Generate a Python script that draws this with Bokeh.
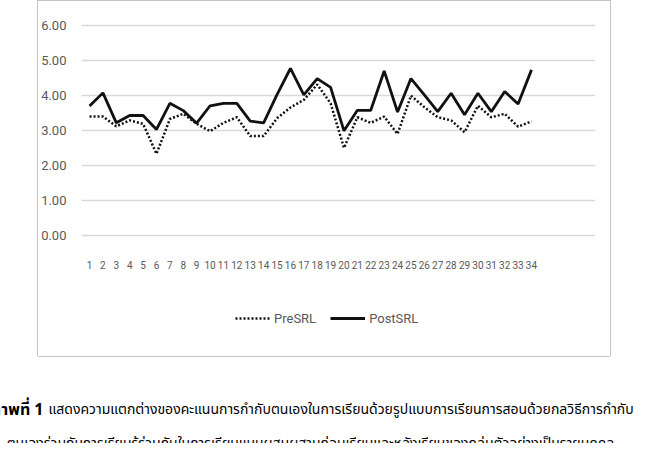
from bokeh.embed import file_html
from bokeh.layouts import column, row
from bokeh.models import (FixedTicker, Label, Legend, LegendItem,
                          NumeralTickFormatter, Range1d, Spacer)
from bokeh.plotting import figure
from bokeh.resources import INLINE

# scores per student
students = list(range(1, 35))
pre_srl = [3.40, 3.40, 3.12, 3.29, 3.19, 2.33, 3.33, 3.48, 3.19, 2.98,
           3.22, 3.38, 2.84, 2.84, 3.35, 3.66, 3.88, 4.32, 3.78, 2.50,
           3.38, 3.22, 3.40, 2.90, 4.00, 3.67, 3.38, 3.29, 2.95, 3.71,
           3.38, 3.48, 3.11, 3.26]
post_srl = [3.70, 4.08, 3.22, 3.43, 3.43, 3.03, 3.78, 3.57, 3.21, 3.71,
            3.78, 3.78, 3.27, 3.22, 4.03, 4.78, 4.02, 4.49, 4.24, 2.99,
            3.58, 3.58, 4.71, 3.53, 4.49, 4.02, 3.54, 4.07, 3.45, 4.07,
            3.54, 4.12, 3.76, 4.74]
y_ticks = [0, 1, 2, 3, 4, 5, 6]
series_names = ["PreSRL", "PostSRL"]
caption_bold = "ภาพที่ 1"
caption_line1 = "แสดงความแตกต่างของคะแนนการกำกับตนเองในการเรียนด้วยรูปแบบการเรียนการสอนด้วยกลวิธีการกำกับ"
caption_line2 = "ตนเองร่วมกับการเรียนรู้ร่วมกันในการเรียนแบบผสมผสานก่อนเรียนและหลังเรียนของกลุ่มตัวอย่างเป็นรายบุคคล"

FONT = "Roboto"
THAI_FONT = "Noto Sans Thai"
TEXT_COLOR = "#595959"
GRID_COLOR = "#d9d9d9"
BOX_COLOR = "#c4c4c4"
LINE_COLOR = "#111111"
PRE_STYLE = dict(line_color=LINE_COLOR, line_width=2.5, line_dash="2 2")
POST_STYLE = dict(line_color=LINE_COLOR, line_width=2.8)


def bare(fig):
    fig.outline_line_color = None
    fig.background_fill_color = "white"
    fig.border_fill_color = "white"
    fig.grid.visible = False
    return fig


def edge(width, height):
    # one side of the grey box round the chart
    return Spacer(width=width, height=height, styles={"background-color": BOX_COLOR})


# the chart itself
p = figure(width=572, height=277, output_backend="svg", toolbar_location=None,
           x_range=Range1d(0.4, 38.78), y_range=Range1d(-0.1, 6.1),
           min_border_left=42, min_border_right=15,
           min_border_top=21, min_border_bottom=40)
p.outline_line_color = None
p.border_fill_color = "white"

p.line(students, pre_srl, **PRE_STYLE)
p.line(students, post_srl, **POST_STYLE)

p.xgrid.grid_line_color = None
p.ygrid.grid_line_color = GRID_COLOR
p.ygrid.grid_line_width = 1.5

p.yaxis.ticker = FixedTicker(ticks=y_ticks)
p.yaxis.formatter = NumeralTickFormatter(format="0.00")
p.xaxis.ticker = FixedTicker(ticks=students)
for ax in (p.xaxis, p.yaxis):
    ax.axis_line_color = None
    ax.major_tick_line_color = None
    ax.minor_tick_line_color = None
    ax.major_label_text_color = TEXT_COLOR
    ax.major_label_text_font = FONT
p.yaxis.major_label_text_font_size = "13px"
p.yaxis.major_label_standoff = 9
p.xaxis.major_label_text_font_size = "10px"
p.xaxis.major_label_standoff = 16

# legend strip at the bottom of the grey box; its key lines sit outside the view
lg = bare(figure(width=572, height=78, output_backend="svg", toolbar_location=None,
                 x_range=Range1d(-2, -1), y_range=Range1d(-2, -1),
                 x_axis_location=None, y_axis_location=None, min_border=0))
pre_key = lg.line(students, pre_srl, **PRE_STYLE)
post_key = lg.line(students, post_srl, **POST_STYLE)
lg.add_layout(Legend(items=[LegendItem(label=series_names[0], renderers=[pre_key]),
                            LegendItem(label=series_names[1], renderers=[post_key])],
                     orientation="horizontal", location=(154, 28),
                     glyph_width=35, glyph_height=20, label_standoff=4, spacing=14,
                     padding=0, margin=0, border_line_color=None,
                     background_fill_alpha=0,
                     label_text_font=FONT, label_text_font_size="13px",
                     label_text_color=TEXT_COLOR))

box = row(edge(1, 356),
          column(edge(572, 1), p, lg, edge(572, 1), spacing=0),
          edge(1, 356), spacing=0)

# caption under the box
cap = bare(figure(width=642, height=86, output_backend="svg", toolbar_location=None,
                  x_range=Range1d(0, 642), y_range=Range1d(86, 0),
                  x_axis_location=None, y_axis_location=None, min_border=0))
cap.add_layout(Label(x=43, y=52, text=caption_bold, text_align="right",
                     text_baseline="middle", text_font=THAI_FONT,
                     text_font_style="bold", text_font_size="16px",
                     text_color="black"))
cap.add_layout(Label(x=48, y=52, text=caption_line1, text_align="left",
                     text_baseline="middle", text_font=THAI_FONT,
                     text_font_size="14px", text_color="black"))
cap.add_layout(Label(x=310, y=86, text=caption_line2, text_align="center",
                     text_baseline="middle", text_font=THAI_FONT,
                     text_font_size="14px", text_color="black"))

layout = column(row(Spacer(width=37, height=356), box, spacing=0), cap, spacing=0)
open("out.html", "w").write(file_html(layout, INLINE))
